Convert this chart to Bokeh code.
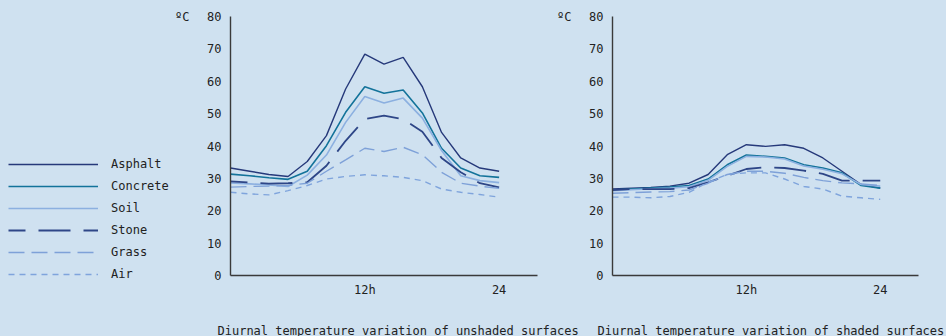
from bokeh.plotting import figure
from bokeh.models import Range1d, Legend, LegendItem, FixedTicker, LinearAxis
from bokeh.layouts import row, column
from bokeh.embed import file_html
from bokeh.resources import INLINE
from bokeh.core.properties import value

# ---------------- data ----------------
steps = list(range(15))              # sample index across the day
x_tick_pos = [7, 14]
x_tick_labels = ["12h", "24"]
y_ticks = [0, 10, 20, 30, 40, 50, 60, 70, 80]
unit_tick = 80
unit_label = "ºC"
series_names = ["Asphalt", "Concrete", "Soil", "Stone", "Grass", "Air"]
captions = ["Diurnal temperature variation of unshaded surfaces",
            "Diurnal temperature variation of shaded surfaces"]

asphalt_unshaded = [33.2, 32.2, 31.2, 30.6, 35.2, 43.2, 57.6, 68.4, 65.3, 67.4, 58.3, 44.2, 36.3, 33.2, 32.2]
concrete_unshaded = [31.3, 30.8, 30.2, 29.7, 32.2, 40.1, 50.4, 58.3, 56.3, 57.3, 50.2, 39.3, 33.2, 30.8, 30.3]
soil_unshaded = [28.6, 28.3, 28.0, 27.5, 31.0, 37.2, 47.3, 55.3, 53.3, 54.8, 48.6, 38.6, 30.8, 29.3, 28.7]
stone_unshaded = [29.1, 28.7, 28.4, 28.5, 28.8, 33.9, 41.6, 48.3, 49.4, 48.3, 44.4, 36.3, 31.9, 28.5, 27.2]
grass_unshaded = [27.3, 27.5, 27.6, 27.8, 28.5, 32.2, 35.7, 39.3, 38.3, 39.6, 37.3, 31.9, 28.5, 27.6, 26.9]
air_unshaded = [25.7, 25.2, 24.9, 26.2, 27.8, 29.8, 30.6, 31.1, 30.8, 30.3, 29.3, 26.7, 25.7, 25.0, 24.2]

asphalt_shaded = [26.7, 27.0, 27.2, 27.6, 28.5, 31.2, 37.3, 40.4, 39.9, 40.4, 39.3, 36.3, 32.2, 28.1, 27.0]
concrete_shaded = [26.4, 26.7, 27.0, 27.3, 27.8, 29.8, 34.2, 37.2, 36.8, 36.3, 34.2, 33.2, 31.7, 27.8, 27.0]
soil_shaded = [26.2, 26.5, 26.8, 27.0, 27.4, 29.4, 33.7, 36.8, 36.6, 36.0, 33.8, 32.8, 31.4, 28.1, 27.6]
stone_shaded = [26.4, 26.7, 26.7, 26.7, 27.0, 28.8, 30.8, 32.9, 33.4, 33.2, 32.4, 31.4, 29.3, 29.3, 29.3]
grass_shaded = [25.4, 25.6, 25.8, 25.9, 26.4, 28.5, 31.2, 32.2, 32.2, 31.6, 30.3, 29.3, 28.6, 28.3, 27.8]
air_shaded = [24.2, 24.2, 24.0, 24.4, 25.7, 28.8, 31.2, 31.7, 31.7, 29.8, 27.5, 26.7, 24.5, 24.0, 23.5]

unshaded = [asphalt_unshaded, concrete_unshaded, soil_unshaded, stone_unshaded, grass_unshaded, air_unshaded]
shaded = [asphalt_shaded, concrete_shaded, soil_shaded, stone_shaded, grass_shaded, air_shaded]

# ---------------- styles ----------------
BG = "#cfe1f0"
FONT = "DejaVu Sans Mono"
TXT = "#222222"
styles = {
    "Asphalt":  dict(line_color="#26397a", line_width=1.4, line_dash="solid", line_dash_offset=0),
    "Concrete": dict(line_color="#13739a", line_width=1.6, line_dash="solid", line_dash_offset=0),
    "Soil":     dict(line_color="#8cb0e0", line_width=1.6, line_dash="solid", line_dash_offset=0),
    "Stone":    dict(line_color="#2e4687", line_width=1.8, line_dash="32 13", line_dash_offset=15),
    "Grass":    dict(line_color="#7ea1d8", line_width=1.4, line_dash="16 7", line_dash_offset=0),
    "Air":      dict(line_color="#7fa4dc", line_width=1.4, line_dash="6 5", line_dash_offset=0),
}

TOP_H = 306
B_TOP = 16
FRAME_H = 259
B_BOTTOM = TOP_H - B_TOP - FRAME_H
B_LEFT = 56


def style_axis(ax):
    ax.major_tick_out = 0
    ax.major_tick_in = 0
    ax.minor_tick_out = 0
    ax.minor_tick_in = 0
    ax.major_label_text_font = FONT
    ax.major_label_text_font_size = "12px"
    ax.major_label_text_color = TXT


def make_chart(width, border_right, data):
    p = figure(width=width, height=TOP_H, output_backend="svg", toolbar_location=None,
               x_range=Range1d(0, 16), y_range=Range1d(0, 80),
               min_border_left=B_LEFT, min_border_right=border_right,
               min_border_top=B_TOP, min_border_bottom=B_BOTTOM,
               background_fill_color=BG, border_fill_color=BG, outline_line_color=None)
    p.grid.visible = False
    for name, ys in zip(series_names, data):
        p.line(steps, ys, **styles[name])
    for ax in (p.xaxis[0], p.yaxis[0]):
        ax.axis_line_color = "#3a3a3a"
        ax.axis_line_width = 1.4
        style_axis(ax)
    p.xaxis.ticker = FixedTicker(ticks=x_tick_pos)
    p.xaxis.major_label_overrides = dict(zip(x_tick_pos, x_tick_labels))
    p.xaxis.major_label_standoff = 7
    p.yaxis.ticker = FixedTicker(ticks=y_ticks)
    p.yaxis.major_label_standoff = 9
    # unit label as an extra outer axis label at the top of the scale
    unit_ax = LinearAxis(ticker=FixedTicker(ticks=[unit_tick]),
                         major_label_overrides={unit_tick: unit_label},
                         axis_line_color=None, major_label_standoff=15)
    style_axis(unit_ax)
    p.add_layout(unit_ax, "left")
    return p


left = make_chart(382, 17, unshaded)
right = make_chart(392, 28, shaded)

# legend panel (renderers kept out of view; only their legend samples show)
leg = figure(width=172, height=TOP_H, output_backend="svg", toolbar_location=None,
             x_range=Range1d(100, 101), y_range=Range1d(100, 101),
             min_border=0, background_fill_color=BG, border_fill_color=BG,
             outline_line_color=None)
leg.frame_align = False
leg.axis.visible = False
leg.grid.visible = False
items = []
for name, ys in zip(series_names, unshaded):
    r = leg.line(steps, ys, **styles[name])
    items.append(LegendItem(label=name, renderers=[r]))
legend = Legend(items=items, location=(8, 24), glyph_width=90, glyph_height=16,
                label_height=16, spacing=6, label_standoff=13, padding=0, margin=0,
                border_line_color=None, background_fill_alpha=0,
                label_text_font=FONT, label_text_font_size="12px", label_text_color=TXT)
leg.add_layout(legend)

# captions panel
cap = figure(width=946, height=30, output_backend="svg", toolbar_location=None,
             x_range=Range1d(0, 946), y_range=Range1d(0, 30), min_border=0,
             background_fill_color=BG, border_fill_color=BG, outline_line_color=None)
cap.axis.visible = False
cap.grid.visible = False
cap.text(x=[217, 597], y=[6, 6], text=captions, text_font=value(FONT),
         text_font_size="12px", text_color=TXT, text_baseline="alphabetic", text_align="left")

layout = column(row(leg, left, right), cap)

html = file_html(layout, INLINE)
html = html.replace("</head>", "<style>body{background:%s;}</style></head>" % BG, 1)
open("out.html", "w").write(html)
